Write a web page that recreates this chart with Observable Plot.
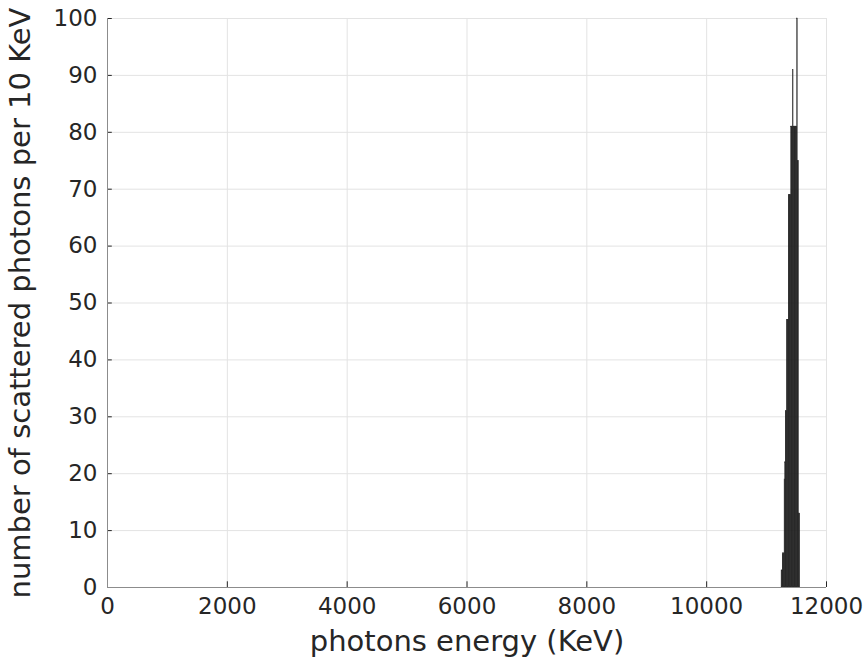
<!DOCTYPE html>
<html>
<head>
<meta charset="utf-8">
<script src="https://cdn.jsdelivr.net/npm/d3@7"></script>
<script src="https://cdn.jsdelivr.net/npm/@observablehq/plot@0.6"></script>
<style>
  html, body { margin: 0; padding: 0; background: #fff; }
  #chart svg { display: block; }
</style>
</head>
<body>
<div id="chart"></div>
<script>
// Histogram bins (start energy, KeV), bin width 10 KeV
const binStart = [11250, 11260, 11270, 11280, 11290, 11300, 11310, 11320, 11330, 11340,
                  11350, 11360, 11370, 11380, 11390, 11400, 11410, 11420, 11430, 11440,
                  11450, 11460, 11470, 11480, 11490, 11500, 11510, 11520, 11530, 11540, 11550];
const counts   = [3, 3, 6, 6, 6, 19, 22, 31, 31, 47,
                  47, 47, 69, 69, 69, 69, 81, 81, 81, 91,
                  81, 81, 81, 81, 81, 81, 100, 75, 75, 13, 13];
const binWidth = 10;
const xTicks = [0, 2000, 4000, 6000, 8000, 10000, 12000];
const yTicks = [0, 10, 20, 30, 40, 50, 60, 70, 80, 90, 100];

const data = binStart.map((s, i) => ({x1: s, x2: s + binWidth, y: counts[i]}));
const ink = "#262626";
const axisGray = "#8c8c8c";

const chart = Plot.plot({
  width: 868,
  height: 663,
  marginLeft: 107,
  marginRight: 42,
  marginTop: 18,
  marginBottom: 76,
  style: {fontFamily: "'DejaVu Sans', sans-serif", fontSize: "23px", color: ink, background: "#fff"},
  x: {domain: [0, 12000]},
  y: {domain: [0, 100]},
  marks: [
    Plot.gridX(xTicks, {stroke: "#e3e3e3", strokeOpacity: 1, strokeWidth: 1}),
    Plot.gridY(yTicks, {stroke: "#e3e3e3", strokeOpacity: 1, strokeWidth: 1}),
    Plot.rectY(data, {x1: "x1", x2: "x2", y: "y", fill: "#222", stroke: "#222", strokeWidth: 0.4}),
    Plot.ruleX(xTicks, {y1: 0, y2: 1.0, stroke: ink}),
    Plot.ruleY(yTicks, {x1: 0, x2: 80, stroke: ink}),
    Plot.ruleX([0], {stroke: axisGray}),
    Plot.ruleY([0], {stroke: axisGray}),
    Plot.axisX(xTicks, {tickSize: 0, tickPadding: 10, fontSize: 23, tickFormat: d => String(d), label: null, fill: ink}),
    Plot.axisY(yTicks, {tickSize: 0, tickPadding: 10, fontSize: 23, tickFormat: d => String(d), label: null, fill: ink}),
    Plot.axisX({ticks: [], tickSize: 0, label: "photons energy (KeV)", labelAnchor: "center", labelArrow: "none", labelOffset: 63, fontSize: 29, fill: ink}),
    Plot.axisY({ticks: [], tickSize: 0, label: "number of scattered photons per 10 KeV", labelAnchor: "center", labelArrow: "none", labelOffset: 98, fontSize: 29, fill: ink})
  ]
});
document.getElementById("chart").appendChild(chart);
</script>
</body>
</html>
